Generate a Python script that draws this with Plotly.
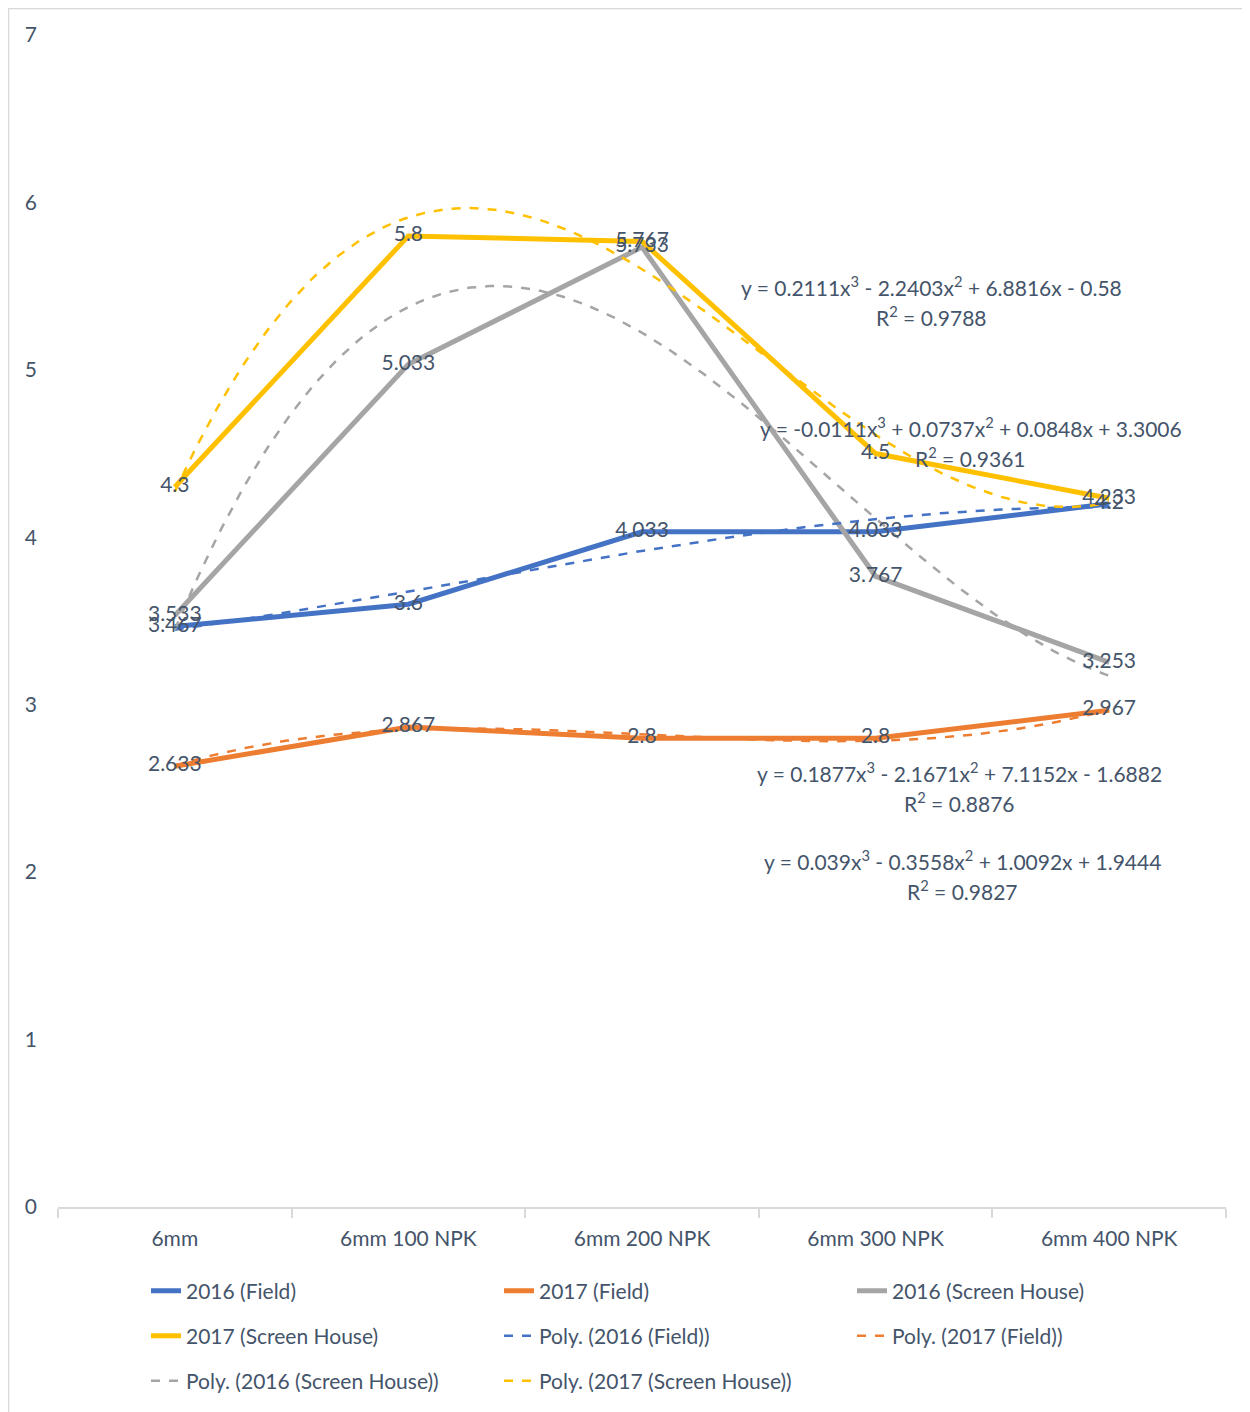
import numpy as np
import plotly.graph_objects as go

categories = ["6mm", "6mm 100 NPK", "6mm 200 NPK", "6mm 300 NPK", "6mm 400 NPK"]
x_pos = [1, 2, 3, 4, 5]

field_2016 = [3.467, 3.6, 4.033, 4.033, 4.2]
field_2017 = [2.633, 2.867, 2.8, 2.8, 2.967]
sh_2016 = [3.533, 5.033, 5.733, 3.767, 3.253]
sh_2017 = [4.3, 5.8, 5.767, 4.5, 4.233]

# cubic trendline coefficients (a3, a2, a1, a0) as printed on the chart
coef_field_2016 = [-0.0111, 0.0737, 0.0848, 3.3006]
coef_field_2017 = [0.039, -0.3558, 1.0092, 1.9444]
coef_sh_2016 = [0.1877, -2.1671, 7.1152, -1.6882]
coef_sh_2017 = [0.2111, -2.2403, 6.8816, -0.58]

r2_field_2016 = "0.9361"
r2_field_2017 = "0.9827"
r2_sh_2016 = "0.8876"
r2_sh_2017 = "0.9788"

eq_field_2016 = "y = -0.0111x<sup>3</sup> + 0.0737x<sup>2</sup> + 0.0848x + 3.3006"
eq_field_2017 = "y = 0.039x<sup>3</sup> - 0.3558x<sup>2</sup> + 1.0092x + 1.9444"
eq_sh_2016 = "y = 0.1877x<sup>3</sup> - 2.1671x<sup>2</sup> + 7.1152x - 1.6882"
eq_sh_2017 = "y = 0.2111x<sup>3</sup> - 2.2403x<sup>2</sup> + 6.8816x - 0.58"

BLUE, ORANGE, GRAY, GOLD = "#4472C4", "#ED7D31", "#A5A5A5", "#FFC000"
TXT = "#44546A"
FONT = "Lato"
FS = 21

xs = np.linspace(1, 5, 200)

fig = go.Figure()

series = [
    ("2016 (Field)", field_2016, BLUE),
    ("2017 (Field)", field_2017, ORANGE),
    ("2016 (Screen House)", sh_2016, GRAY),
    ("2017 (Screen House)", sh_2017, GOLD),
]
trends = [
    ("Poly. (2016 (Field))", coef_field_2016, BLUE),
    ("Poly. (2017 (Field))", coef_field_2017, ORANGE),
    ("Poly. (2016 (Screen House))", coef_sh_2016, GRAY),
    ("Poly. (2017 (Screen House))", coef_sh_2017, GOLD),
]
legend_ids = ["legend", "legend", "legend", "legend2", "legend2", "legend2", "legend3", "legend3"]

i = 0
for name, vals, col in series:
    fig.add_trace(go.Scatter(x=x_pos, y=vals, mode="lines", name=name,
                             line=dict(color=col, width=5), legend=legend_ids[i]))
    i += 1
for name, coef, col in trends:
    fig.add_trace(go.Scatter(x=xs, y=np.polyval(coef, xs), mode="lines", name=name,
                             line=dict(color=col, width=2.5, dash="dash"), legend=legend_ids[i]))
    i += 1

for name, vals, col in series:
    fig.add_trace(go.Scatter(x=x_pos, y=vals, mode="text", showlegend=False,
                             text=[f"{v:g}" for v in vals], textposition="middle center",
                             textfont=dict(family=FONT, size=FS, color=TXT), hoverinfo="skip"))

# equation labels
eqs = [
    (4.241, 5.502, eq_sh_2017), (4.241, 5.323, "R<sup>2</sup> = " + r2_sh_2017),
    (4.408, 4.661, eq_field_2016), (4.408, 4.482, "R<sup>2</sup> = " + r2_field_2016),
    (4.361, 2.596, eq_sh_2016), (4.361, 2.417, "R<sup>2</sup> = " + r2_sh_2016),
    (4.370, 2.071, eq_field_2017), (4.370, 1.892, "R<sup>2</sup> = " + r2_field_2017),
]
for ex, ey, t in eqs:
    fig.add_annotation(x=ex, y=ey, xref="x", yref="y", text=t, showarrow=False,
                       font=dict(family=FONT, size=FS, color=TXT), xanchor="center", yanchor="middle")

# page body has an 8px offset; plot area in div coords: left 50, top 27, width 1168, height 1173
L, T, PW, PH = 50, 27, 1168, 1173

def px(xp):
    return (xp - 8 - L) / PW

def py(yp):
    return (T + PH - (yp - 8)) / PH

# outer chart border
fig.add_shape(type="rect", xref="paper", yref="paper",
              x0=px(8.5), x1=px(1262), y0=py(1420), y1=py(8.5),
              line=dict(color="#D9D9D9", width=1.5), fillcolor="rgba(0,0,0,0)", layer="below")

leg_common = dict(orientation="h", xanchor="left", yanchor="middle", entrywidth=308,
                  font=dict(family=FONT, size=FS, color=TXT), bgcolor="rgba(0,0,0,0)",
                  itemwidth=30, tracegroupgap=0)
fig.update_layout(
    width=1242, height=1404,
    margin=dict(l=L, r=24, t=T, b=204, pad=0),
    paper_bgcolor="white", plot_bgcolor="white",
    font=dict(family=FONT, size=FS, color=TXT),
    xaxis=dict(range=[0.5, 5.5], tickmode="array", tickvals=x_pos, ticktext=categories,
               showgrid=False, zeroline=False, showline=True, linecolor="#D9D9D9", linewidth=1.5,
               ticks="", ticklabelstandoff=12,
               tickfont=dict(family=FONT, size=FS, color=TXT),
               minor=dict(tick0=0.5, dtick=1, ticks="outside", ticklen=9, tickcolor="#D9D9D9",
                          tickwidth=1.5, showgrid=False)),
    yaxis=dict(range=[0, 7], dtick=1, showgrid=False, zeroline=False, showline=False,
               ticks="", ticklabelstandoff=20,
               tickfont=dict(family=FONT, size=FS, color=TXT)),
    legend=dict(x=px(146), y=py(1291), **leg_common),
    legend2=dict(x=px(146), y=py(1336), **leg_common),
    legend3=dict(x=px(146), y=py(1381), **leg_common),
    showlegend=True,
)

fig.write_html("out.html")
